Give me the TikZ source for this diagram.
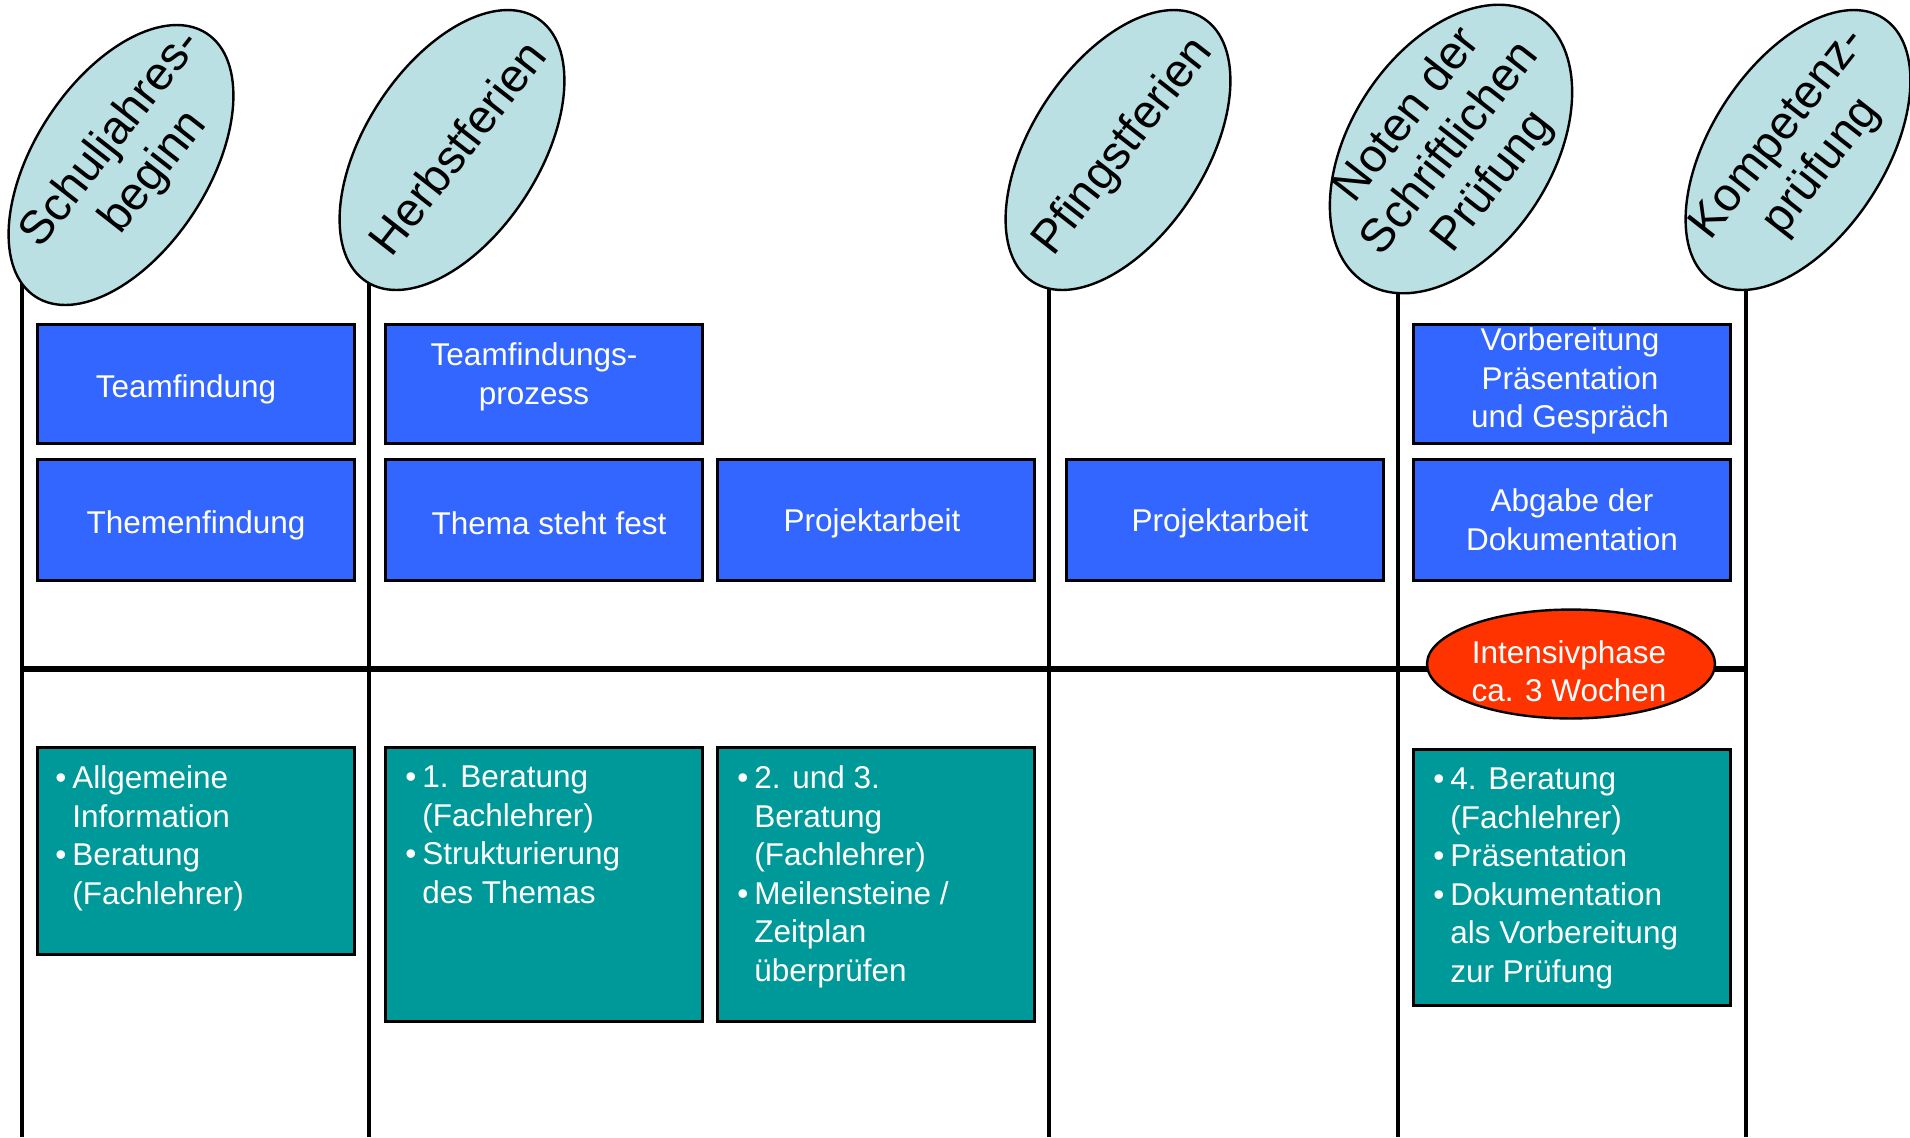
\documentclass[tikz,border=0pt]{standalone}
\usepackage{fontspec}
\setmainfont{Liberation Sans}
\usetikzlibrary{shapes.geometric}
\definecolor{boxblue}{HTML}{3366FF}
\definecolor{boxteal}{HTML}{009999}
\definecolor{elllight}{HTML}{BBE0E3}
\definecolor{ellred}{HTML}{FF3300}
\newcommand\bodyfont{\fontsize{15.75pt}{19.25pt}\selectfont}
\newcommand\ellfont{\fontsize{23.5pt}{27pt}\selectfont}
\newcommand\bul{\makebox[8.5pt][l]{•}}
\newcommand\ind{\hspace*{8.5pt}}
% move content by (dx, dy) without changing its box
\newcommand\nudge[3]{\raisebox{#2}[\height][\depth]{\hspace*{#1}#3\hspace*{-#1}}}
\newcommand\lines[1]{\begin{tabular}{@{}c@{}}#1\end{tabular}}
\begin{document}
\begin{tikzpicture}[x=0.5pt,y=-0.5pt,
  vline/.style={line width=1.8pt,black},
  mainline/.style={line width=3pt,black},
  bluebox/.style={draw=black,line width=1.5pt,fill=boxblue,text=white,minimum width=158.5pt,inner sep=0pt,align=center,font=\bodyfont},
  tealbox/.style={draw=black,line width=1.5pt,fill=boxteal,minimum width=158.5pt,inner sep=0pt},
  tealtext/.style={anchor=north west,inner sep=0pt,text=white,align=left,font=\bodyfont},
  topell/.style={ellipse,draw=black,line width=1.2pt,fill=elllight,inner sep=0pt},
  elltext/.style={inner sep=0pt,align=center,font=\ellfont,rotate=52},
  redell/.style={ellipse,draw=black,line width=1.2pt,fill=ellred,text=white,inner sep=0pt,align=center,font=\bodyfont,minimum width=144pt,minimum height=52pt}]
\useasboundingbox (0,0) rectangle (1910,1137);
% timeline coordinates
\coordinate (v1t) at (22,224);   \coordinate (v1b) at (22,1137);
\coordinate (v2t) at (369,210);  \coordinate (v2b) at (369,1137);
\coordinate (v3t) at (1049,210); \coordinate (v3b) at (1049,1137);
\coordinate (v4t) at (1398,210); \coordinate (v4b) at (1398,1137);
\coordinate (v5t) at (1746,210); \coordinate (v5b) at (1746,1137);
\coordinate (hl) at (22,669);    \coordinate (hr) at (1746,669);
\draw[vline] (v1t) -- (v1b);
\draw[vline] (v2t) -- (v2b);
\draw[vline] (v3t) -- (v3b);
\draw[vline] (v4t) -- (v4b);
\draw[vline] (v5t) -- (v5b);
\draw[mainline] (hl) -- (hr);
% milestone ellipses
\node[topell,minimum width=157pt,minimum height=87pt,rotate=57] (e1) at (121,165) {};
\node[elltext] (e1t) at ([shift={(12,-9)}]e1.center) {Schuljahres-\\beginn};
\node[topell,minimum width=157pt,minimum height=87pt,rotate=57] (e2) at (452,150) {};
\node[elltext] (e2t) at ([shift={(5,-3)}]e2.center) {Herbstferien};
\node[topell,minimum width=157pt,minimum height=87pt,rotate=57] (e3) at (1118,150) {};
\node[elltext] (e3t) at ([shift={(6,-3)}]e3.center) {Pfingstferien};
\node[topell,minimum width=159pt,minimum height=101pt,rotate=57] (e4) at (1451,149) {};
\node[elltext] (e4t) at ([shift={(0,0)}]e4.center) {Noten der\\Schriftlichen\\Prüfung};
\node[topell,minimum width=157pt,minimum height=87pt,rotate=57] (e5) at (1798,150) {};
\node[elltext] (e5t) at ([shift={(3,1)}]e5.center) {Kompetenz-\\prüfung};
% blue boxes
\node[bluebox,minimum height=59.5pt] (b11) at (196,383.5) {\nudge{-5pt}{-3pt}{Teamfindung}};
\node[bluebox,minimum height=59.5pt] (b12) at (544,383.5) {\nudge{-5pt}{3pt}{\lines{Teamfindungs-\\prozess}}};
\node[bluebox,minimum height=59.5pt] (b15) at (1572,383.5) {\nudge{-1pt}{1pt}{\lines{Vorbereitung\\Präsentation\\und Gespräch}}};
\node[bluebox,minimum height=60.5pt] (b21) at (196,519.5) {\nudge{0pt}{-3pt}{Themenfindung}};
\node[bluebox,minimum height=60.5pt] (b22) at (544,519.5) {\nudge{2.5pt}{-2pt}{Thema steht fest}};
\node[bluebox,minimum height=60.5pt] (b23) at (876,519.5) {\nudge{-2pt}{-2pt}{Projektarbeit}};
\node[bluebox,minimum height=60.5pt] (b24) at (1225,519.5) {\nudge{-2.5pt}{-2pt}{Projektarbeit}};
\node[bluebox,minimum height=60.5pt] (b25) at (1572,519.5) {Abgabe der\\Dokumentation};
% intensive phase
\node[redell] (int) at (1571,664) {\nudge{-1pt}{-5.5pt}{\lines{Intensivphase\\ca. 3 Wochen}}};
% teal boxes
\node[tealbox,minimum height=103.5pt] (t1) at (196,850.5) {};
\node[tealtext] (t1x) at ([shift={(19,20)}]t1.north west) {\bul Allgemeine\\\ind Information\\\bul Beratung\\\ind (Fachlehrer)};
\node[tealbox,minimum height=137pt] (t2) at (544,884) {};
\node[tealtext] (t2x) at ([shift={(21,20)}]t2.north west) {\bul 1. Beratung\\\ind (Fachlehrer)\\\bul Strukturierung\\\ind des Themas};
\node[tealbox,minimum height=137pt] (t3) at (876,884) {};
\node[tealtext] (t3x) at ([shift={(21,20)}]t3.north west) {\bul 2. und 3.\\\ind Beratung\\\ind (Fachlehrer)\\\bul Meilensteine /\\\ind Zeitplan\\\ind überprüfen};
\node[tealbox,minimum height=128pt] (t5) at (1572,877) {};
\node[tealtext] (t5x) at ([shift={(21,20)}]t5.north west) {\bul 4. Beratung\\\ind (Fachlehrer)\\\bul Präsentation\\\bul Dokumentation\\\ind als Vorbereitung\\\ind zur Prüfung};
\end{tikzpicture}
\end{document}
